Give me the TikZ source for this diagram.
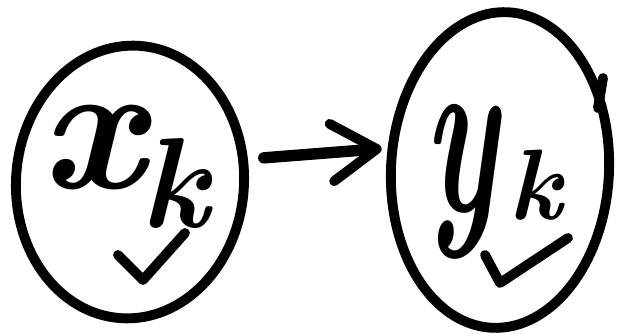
\documentclass[tikz,border=0pt]{standalone}
\usepackage{fontspec}
\usepackage{graphicx}
\usetikzlibrary{shapes.geometric,arrows.meta}
\tikzset{
  hand/.style={line width=5.6pt, line cap=round, line join=round},
  blob/.style={ellipse, draw, hand, inner sep=0pt},
  letter/.style={inner sep=0pt, font=\bfseries\itshape},
}
\begin{document}
\begin{tikzpicture}[x=0.02cm,y=-0.02cm]
\useasboundingbox (0,0) rectangle (620,334);
% ellipses
\node[blob, minimum width=4.56cm, minimum height=5.46cm, rotate=-4] (L) at (130,182) {};
\node[blob, minimum width=4.36cm, minimum height=6.32cm, rotate=-3] (R) at (500,170) {};
% small hook on the right ellipse
\draw[hand] (598,108) -- (603,78);
% letters
\node[letter] (x) at (92,148) {\fontsize{105pt}{105pt}\selectfont x};
\node[letter] (k1) at (175,183) {\fontsize{73pt}{73pt}\selectfont k};
\node[letter] (y) at (461,182) {\scalebox{0.55}[1]{\fontsize{135pt}{135pt}\selectfont y}};
\node[letter] (k2) at (535,185) {\fontsize{57pt}{57pt}\selectfont k};
% check marks
\draw[hand] (118,255) -- (143,280) -- (185,233);
\draw[hand] (485,255) -- (500,283) -- (568,238);
% arrow
\draw[hand, line width=6.5pt, -{Straight Barb[length=0.9cm, width=1.15cm, line width=5.6pt, round]}, shorten <=16*0.02cm, shorten >=6*0.02cm] (L.15) -- (R.172);
\end{tikzpicture}
\end{document}
